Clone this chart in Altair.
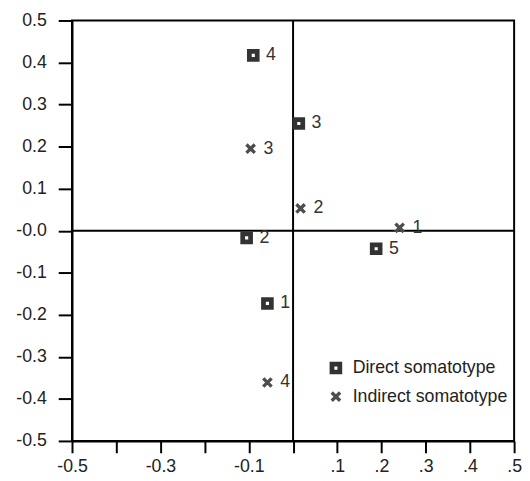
import altair as alt
import pandas as pd

# ---- data ----
direct_x = [-0.058, -0.105, 0.013, -0.090, 0.188]
direct_y = [-0.173, -0.017, 0.255, 0.417, -0.043]
direct_lab = ["1", "2", "3", "4", "5"]

indirect_x = [0.241, 0.017, -0.096, -0.058]
indirect_y = [0.007, 0.053, 0.195, -0.361]
indirect_lab = ["1", "2", "3", "4"]

series_names = ["Direct somatotype", "Indirect somatotype"]
tick_values = [-0.5, -0.4, -0.3, -0.2, -0.1, 0.0, 0.1, 0.2, 0.3, 0.4, 0.5]
x_tick_labels = ["-0.5", "", "-0.3", "", "-0.1", "", ".1", ".2", ".3", ".4", ".5"]
y_tick_labels = ["-0.5", "-0.4", "-0.3", "-0.2", "-0.1", "-0.0", "0.1", "0.2", "0.3", "0.4", "0.5"]
zero_lines = [0.0]

rows = []
for x, y, l in zip(direct_x, direct_y, direct_lab):
    rows.append({"x": x, "y": y, "label": l, "series": series_names[0]})
for x, y, l in zip(indirect_x, indirect_y, indirect_lab):
    rows.append({"x": x, "y": y, "label": l, "series": series_names[1]})
df = pd.DataFrame(rows)
zdf = pd.DataFrame({"z": zero_lines})

FONT = "Liberation Sans"


def label_expr(labels):
    arr = "[" + ",".join("'" + s + "'" for s in labels) + "]"
    return arr + "[round((datum.value + 0.5) * 10)]"


xscale = alt.Scale(domain=[-0.5, 0.5], nice=False, zero=False)
yscale = alt.Scale(domain=[-0.5, 0.5], nice=False, zero=False)

xaxis = alt.Axis(values=tick_values, labelExpr=label_expr(x_tick_labels), title=None,
                 grid=False, tickSize=12, labelPadding=5, labelFontSize=18)
yaxis = alt.Axis(values=tick_values, labelExpr=label_expr(y_tick_labels), title=None,
                 grid=False, tickSize=14, labelPadding=12, labelFontSize=18)

X_PATH = "M-1,-1L1,1M1,-1L-1,1"

points = alt.Chart(df).mark_point(filled=False, opacity=1).encode(
    x=alt.X("x:Q", scale=xscale, axis=xaxis),
    y=alt.Y("y:Q", scale=yscale, axis=yaxis),
    shape=alt.Shape("series:N", scale=alt.Scale(domain=series_names, range=["square", X_PATH]),
                    legend=alt.Legend(title=None, orient="none", legendX=259, legendY=344,
                                      labelOffset=8, rowPadding=3, padding=0)),
    color=alt.Color("series:N", scale=alt.Scale(domain=series_names, range=["#333333", "#4d4d4d"])),
    size=alt.Size("series:N", scale=alt.Scale(domain=series_names, range=[64, 72])),
    strokeWidth=alt.StrokeWidth("series:N", scale=alt.Scale(domain=series_names, range=[4.8, 3.4])),
)

labels = alt.Chart(df).mark_text(align="left", baseline="middle", dx=13, fontSize=18,
                                 font=FONT, color="#333").encode(
    x=alt.X("x:Q", scale=xscale, axis=xaxis),
    y=alt.Y("y:Q", scale=yscale, axis=yaxis),
    text="label:N",
)

vrule = alt.Chart(zdf).mark_rule(color="black", strokeWidth=2).encode(
    x=alt.X("z:Q", scale=xscale, axis=xaxis))
hrule = alt.Chart(zdf).mark_rule(color="black", strokeWidth=2).encode(
    y=alt.Y("z:Q", scale=yscale, axis=yaxis))

chart = alt.layer(vrule, hrule, points, labels).properties(
    width=449, height=427,
    background="white",
    autosize=alt.AutoSizeParams(type="none"),
    padding={"left": 65, "top": 9, "right": 8, "bottom": 36},
).configure_view(stroke="black", strokeWidth=2).configure_axis(
    labelFont=FONT, labelColor="#222", labelFlush=False, labelOverlap=False,
    domainColor="black", domainWidth=2, tickColor="black", tickWidth=2,
).configure_legend(labelFontSize=18, labelFont=FONT, labelColor="#222")

chart.save("out.html", embed_options={"renderer": "svg", "actions": False})
